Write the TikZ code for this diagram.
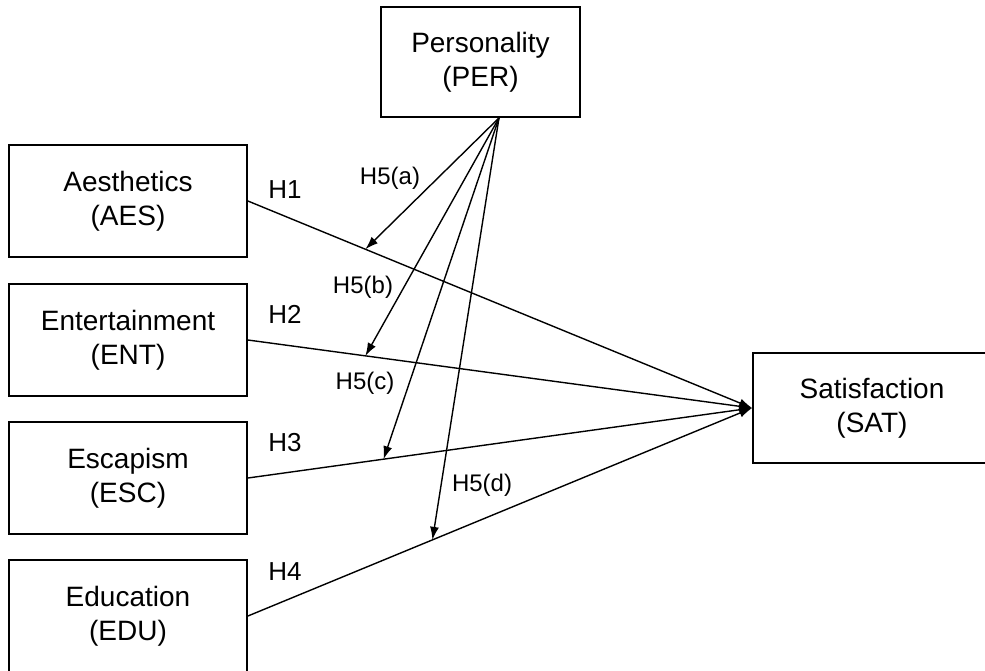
\documentclass[tikz,border=0pt]{standalone}
\usepackage{fontspec}
\setmainfont{Liberation Sans}
\usetikzlibrary{arrows.meta}

\tikzset{
    % constructs
    construct/.style={
        rectangle,
        draw=black,
        line width=0.9pt,
        minimum width=119pt,
        minimum height=56pt,
        align=center,
        font=\fontsize{14}{17}\selectfont
    },
    % labels
    hypothesis/.style={
        inner sep=0pt,
        font=\fontsize{13}{15}\selectfont
    },
    moderation/.style={
        inner sep=0pt,
        font=\fontsize{12}{14}\selectfont
    },
    % arrows
    direct-path/.style={
        line width=0.7pt,
        -{Latex[length=6.5pt, width=4.5pt]}
    },
    moderating-path/.style={
        line width=0.7pt,
        -{Latex[length=6.5pt, width=4.5pt]}
    }
}

\begin{document}
\begin{tikzpicture}[x=0.5pt, y=-0.5pt]

        \useasboundingbox (0, 0) rectangle (985, 670);

        % draw nodes
        \foreach \n/\t/\a/\y in {aes/Aesthetics/AES/201, ent/Entertainment/ENT/340, esc/Escapism/ESC/478, edu/Education/EDU/616}
            \node [construct] (\n) at (128, \y) {\t\\(\a)};

        \node [construct, minimum width=99.5pt, minimum height=55pt] (per) at (480.5, 62) {Personality\\(PER)};
        \node [construct, minimum height=55pt] (sat) at (872, 408) {Satisfaction\\(SAT)};

        % draw edges
        \foreach \n/\p [count=\i] in {aes/.233, ent/.233, esc/.269, edu/.366}
            \draw [direct-path] (\n.east) -- coordinate [pos=\p] (mod-\i) (sat.west);

        \coordinate (per-out) at ([xshift=9.25pt]per.south);
        \foreach \i in {1, ..., 4}
            \draw [moderating-path] (per-out) -- (mod-\i);

        % names
        \foreach \y [count=\i] in {190, 314, 443, 572}
            \node [hypothesis] (h\i) at (285, \y) {H\i};

        \node [moderation] (h5a) at (390, 178) {H5(a)};
        \node [moderation] (h5b) at (363, 287) {H5(b)};
        \node [moderation] (h5c) at (365, 383) {H5(c)};
        \node [moderation] (h5d) at (482, 485) {H5(d)};

    \end{tikzpicture}
\end{document}
